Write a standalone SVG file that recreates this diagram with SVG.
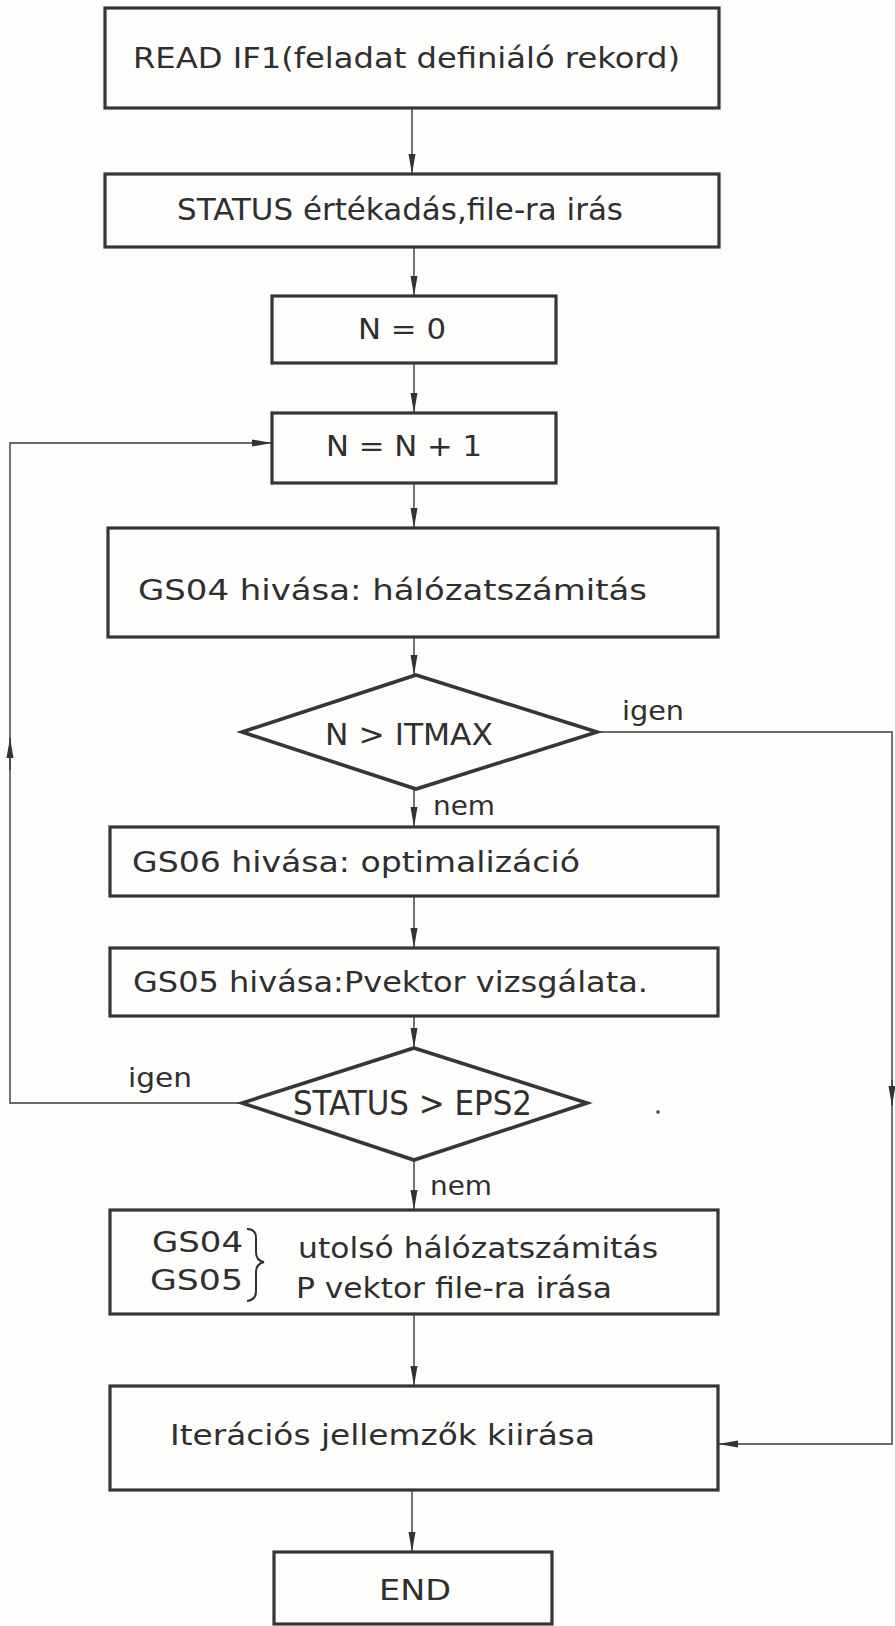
<svg xmlns="http://www.w3.org/2000/svg" width="895" height="1626" viewBox="0 0 895 1626">
  <defs>
    <marker id="arrow" viewBox="0 0 20 8" refX="20" refY="4" markerWidth="20" markerHeight="8" markerUnits="userSpaceOnUse" orient="auto">
      <path d="M0,0.5 L20,4 L0,7.5 Z" fill="#333"/>
    </marker>
    <style>
      .box { fill: none; stroke: #363636; stroke-width: 3.2; }
      .dia { fill: none; stroke: #363636; stroke-width: 3.6; stroke-linejoin: miter; }
      .con { fill: none; stroke: #3a3a3a; stroke-width: 1.4; }
      .arr { marker-end: url(#arrow); }
      text { font-family: "DejaVu Sans", "Liberation Sans", sans-serif; fill: #2f2f2f; }
      .t { font-size: 29px; }
      .lbl { font-size: 27px; }
    </style>
  </defs>

  <rect width="895" height="1626" fill="#fdfdfb"/>

  <!-- connectors -->
  <g id="connectors">
    <path class="con arr" d="M412,108 L412,174"/>
    <path class="con arr" d="M414,247 L414,296"/>
    <path class="con arr" d="M414,363 L414,413"/>
    <path class="con arr" d="M414,483 L414,528"/>
    <path class="con arr" d="M414,637 L414,675"/>
    <path class="con arr" d="M414,789 L414,827"/>
    <path class="con arr" d="M414,896 L414,948"/>
    <path class="con arr" d="M414,1016 L414,1048"/>
    <path class="con arr" d="M414,1160 L414,1210"/>
    <path class="con arr" d="M414,1314 L414,1386"/>
    <path class="con arr" d="M412,1490 L412,1552"/>
    <!-- loop back: STATUS > EPS2 (igen) to N = N + 1 -->
    <path class="con arr" d="M242,1103 L10,1103 L10,443 L272,443"/>
    <path class="con arr" d="M10,770 L10,738"/>
    <!-- exit: N > ITMAX (igen) to the summary box -->
    <path class="con arr" d="M597,732 L892,732 L892,1444 L718,1444"/>
    <path class="con arr" d="M892,1080 L892,1106"/>
    <text class="lbl" x="622" y="720" textLength="62" lengthAdjust="spacingAndGlyphs">igen</text>
    <text class="lbl" x="433" y="815" textLength="62" lengthAdjust="spacingAndGlyphs">nem</text>
    <text class="lbl" x="128" y="1087" textLength="64" lengthAdjust="spacingAndGlyphs">igen</text>
    <text class="lbl" x="430" y="1195" textLength="62" lengthAdjust="spacingAndGlyphs">nem</text>
  </g>

  <g id="n-read">
    <rect class="box" x="105" y="8" width="614" height="100"/>
    <text class="t" x="133" y="68" textLength="547" lengthAdjust="spacingAndGlyphs">READ  IF1(feladat definiáló rekord)</text>
  </g>

  <g id="n-status">
    <rect class="box" x="105" y="174" width="614" height="73"/>
    <text x="177" y="220" style="font-size:30px" textLength="446" lengthAdjust="spacingAndGlyphs">STATUS értékadás,file-ra irás</text>
  </g>

  <g id="n-init">
    <rect class="box" x="272" y="296" width="284" height="67"/>
    <text class="t" x="358" y="339" textLength="88" lengthAdjust="spacingAndGlyphs">N = 0</text>
  </g>

  <g id="n-incr">
    <rect class="box" x="272" y="413" width="284" height="70"/>
    <text class="t" x="326" y="456" textLength="156" lengthAdjust="spacingAndGlyphs">N = N  + 1</text>
  </g>

  <g id="n-gs04">
    <rect class="box" x="108" y="528" width="610" height="109"/>
    <text class="t" x="138" y="600" textLength="509" lengthAdjust="spacingAndGlyphs">GS04  hivása: hálózatszámitás</text>
  </g>

  <g id="n-itmax">
    <polygon class="dia" points="416,675 597,732 416,789 242,732"/>
    <text style="font-size:31px" x="325" y="745" textLength="168" lengthAdjust="spacingAndGlyphs">N &gt; ITMAX</text>
  </g>

  <g id="n-gs06">
    <rect class="box" x="110" y="827" width="608" height="69"/>
    <text class="t" x="132" y="872" textLength="448" lengthAdjust="spacingAndGlyphs">GS06  hivása: optimalizáció</text>
  </g>

  <g id="n-gs05">
    <rect class="box" x="110" y="948" width="608" height="68"/>
    <text class="t" x="133" y="992" textLength="515" lengthAdjust="spacingAndGlyphs">GS05  hivása:Pvektor vizsgálata.</text>
  </g>

  <g id="n-eps2">
    <polygon class="dia" points="414,1048 587,1103 414,1160 242,1103"/>
    <text style="font-size:33px" x="293" y="1115" textLength="239" lengthAdjust="spacingAndGlyphs">STATUS &gt; EPS2</text>
  </g>

  <g id="n-final">
    <rect class="box" x="110" y="1210" width="608" height="104"/>
    <text class="t" x="152" y="1252" textLength="91" lengthAdjust="spacingAndGlyphs">GS04</text>
    <text class="t" x="150" y="1290" textLength="93" lengthAdjust="spacingAndGlyphs">GS05</text>
    <path d="M247,1229 Q256,1229 256,1238 L256,1252 Q256,1261 264,1262 Q256,1264 256,1272 L256,1291 Q256,1300 247,1301" fill="none" stroke="#2f2f2f" stroke-width="2"/>
    <text class="t" x="298" y="1258" textLength="360" lengthAdjust="spacingAndGlyphs">utolsó hálózatszámitás</text>
    <text class="t" x="296" y="1298" textLength="316" lengthAdjust="spacingAndGlyphs">P vektor file-ra irása</text>
  </g>

  <g id="n-report">
    <rect class="box" x="110" y="1386" width="608" height="104"/>
    <text class="t" x="170" y="1445" textLength="425" lengthAdjust="spacingAndGlyphs">Iterációs  jellemzők  kiirása</text>
  </g>

  <g id="n-end">
    <rect class="box" x="274" y="1552" width="278" height="72"/>
    <text class="t" x="415" y="1600" text-anchor="middle" textLength="72" lengthAdjust="spacingAndGlyphs">END</text>
  </g>

  <circle cx="658" cy="1112" r="1.8" fill="#444"/>
</svg>
